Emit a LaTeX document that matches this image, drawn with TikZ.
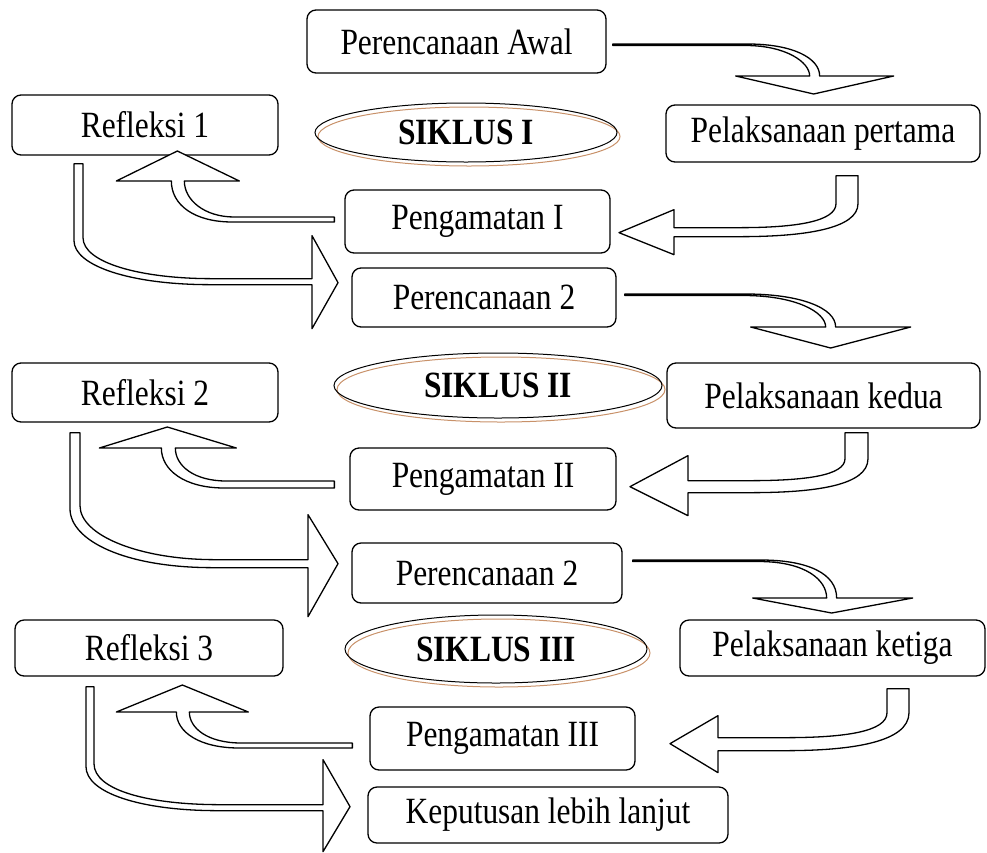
\documentclass[tikz,border=0pt]{standalone}
\usepackage{fontspec}
\setmainfont{Liberation Serif}[FakeStretch=0.85]
\usetikzlibrary{positioning, calc, shapes}

\definecolor{ringbrown}{RGB}{200,145,105}

\begin{document}
\begin{tikzpicture}[x=1pt, y=-1pt]
  \tikzstyle{stepbox}=[draw, rounded corners=9pt, line width=1.3pt, inner sep=0pt, font=\fontsize{37}{42}\selectfont]
  \tikzstyle{siklus}=[draw, ellipse, line width=1pt, inner sep=0pt, font=\fontsize{37}{42}\selectfont\bfseries,
    preaction={draw=ringbrown, line width=1pt, transform canvas={shift={(3pt,-4pt)}}}]
  \tikzstyle{barrow}=[draw, fill=white, line width=1.3pt, line join=round]

  \useasboundingbox (0,0) rectangle (987,852);

  % siklus I
  \node (awal) at (456.5,41.5) [stepbox, minimum width=299pt, minimum height=63pt] {Perencanaan Awal};
  \node (ref1) at (145,125) [stepbox, minimum width=266pt, minimum height=60pt] {Refleksi 1};
  \node (sik1) at (466,132.5) [siklus, minimum width=302pt, minimum height=59pt] {SIKLUS I};
  \node (pel1) at (823,133.5) [stepbox, minimum width=314pt, minimum height=57pt] {Pelaksanaan pertama};
  \node (pg1) at (477.5,221.5) [stepbox, minimum width=265pt, minimum height=63pt] {Pengamatan I};

  % siklus II
  \node (per2) at (484,297.5) [stepbox, minimum width=264pt, minimum height=59pt] {Perencanaan 2};
  \node (ref2) at (145,392.5) [stepbox, minimum width=266pt, minimum height=59pt] {Refleksi 2};
  \node (sik2) at (498,385.5) [siklus, minimum width=328pt, minimum height=65pt] {SIKLUS II};
  \node (pel2) at (823.5,395.5) [stepbox, minimum width=313pt, minimum height=65pt] {Pelaksanaan kedua};
  \node (pg2) at (483,479) [stepbox, minimum width=266pt, minimum height=62pt] {Pengamatan II};

  % siklus III
  \node (per3) at (487,573) [stepbox, minimum width=270pt, minimum height=60pt] {Perencanaan 2};
  \node (ref3) at (149,648) [stepbox, minimum width=268pt, minimum height=56pt] {Refleksi 3};
  \node (sik3) at (496,649) [siklus, minimum width=302pt, minimum height=68pt] {SIKLUS III};
  \node (pel3) at (832.5,648) [stepbox, minimum width=305pt, minimum height=56pt] {Pelaksanaan ketiga};
  \node (pg3) at (502.5,738.5) [stepbox, minimum width=265pt, minimum height=63pt] {Pengamatan III};
  \node (kep) at (548,815) [stepbox, minimum width=360pt, minimum height=56pt] {Keputusan lebih lanjut};

  % perencanaan -> pelaksanaan
  \begin{scope}[shift={(awal.east)}]
    \draw[barrow] (6,2.5) -- (141,2.5) .. controls (186,2.5) and (213,16.5) .. (213,34.5) -- (287,34.5) -- (207,52.5)
      -- (129,34.5) -- (203,34.5) .. controls (203,20.5) and (179,4) .. (139,4) -- (6,4) -- cycle;
  \end{scope}
  \begin{scope}[shift={(per2.east)}]
    \draw[barrow] (8,-3.5) -- (129,-3.5) .. controls (184,-3.5) and (219,10.5) .. (219,29.5) -- (294,29.5) -- (214,50.5)
      -- (134,29.5) -- (209,29.5) .. controls (209,14.5) and (179,-2) .. (127,-2) -- (8,-2) -- cycle;
  \end{scope}
  \begin{scope}[shift={(per3.east)}]
    \draw[barrow] (10,-13) -- (138,-13) .. controls (186,-13) and (214,1) .. (214,25) -- (290,25) -- (209,40)
      -- (130,25) -- (204,25) .. controls (204,7) and (183,-11.5) .. (136,-11.5) -- (10,-11.5) -- cycle;
  \end{scope}

  % pelaksanaan -> pengamatan
  \begin{scope}[shift={(pel1.south)}]
    \draw[barrow] (13,13) -- (35,13) -- (35,41) .. controls (35,66) and (-18,74) .. (-83,74) -- (-149,74) -- (-149,92)
      -- (-204,70) -- (-149,47) -- (-149,65) -- (-83,65) .. controls (-28,65) and (13,59) .. (13,41) -- cycle;
  \end{scope}
  \begin{scope}[shift={(pel2.south)}]
    \draw[barrow] (21.5,4) -- (44.5,4) -- (44.5,30) .. controls (44.5,57) and (-8.5,64) .. (-73.5,64) -- (-135.5,64) -- (-135.5,87)
      -- (-193.5,58) -- (-135.5,27) -- (-135.5,52) -- (-73.5,52) .. controls (-18.5,52) and (21.5,47) .. (21.5,30) -- cycle;
  \end{scope}
  \begin{scope}[shift={(pel3.south)}]
    \draw[barrow] (54.5,12) -- (76.5,12) -- (76.5,36) .. controls (76.5,66) and (17.5,74) .. (-47.5,74) -- (-114.5,74) -- (-114.5,96)
      -- (-162.5,67) -- (-114.5,39) -- (-114.5,61) -- (-47.5,61) .. controls (12.5,61) and (54.5,55) .. (54.5,36) -- cycle;
  \end{scope}

  % pengamatan -> refleksi
  \begin{scope}[shift={(pg1.west)}]
    \draw[barrow] (-10,-4.5) -- (-10,0.5) -- (-112,0.5) .. controls (-150,0.5) and (-173,-16.5) .. (-173,-40.5) -- (-228,-40.5)
      -- (-167,-70.5) -- (-105,-40.5) -- (-160,-40.5) .. controls (-160,-21.5) and (-140,-4.5) .. (-110,-4.5) -- cycle;
  \end{scope}
  \begin{scope}[shift={(pg2.west)}]
    \draw[barrow] (-15,2) -- (-15,9) -- (-125,9) .. controls (-165,9) and (-188,-9) .. (-188,-31) -- (-250,-31)
      -- (-182,-52) -- (-113,-31) -- (-174,-31) .. controls (-174,-13) and (-155,2) .. (-123,2) -- cycle;
  \end{scope}
  \begin{scope}[shift={(pg3.west)}]
    \draw[barrow] (-17,4.5) -- (-17,9.5) -- (-130,9.5) .. controls (-170,9.5) and (-193,-6.5) .. (-193,-26.5) -- (-253,-26.5)
      -- (-187,-53.5) -- (-121,-26.5) -- (-180,-26.5) .. controls (-180,-10.5) and (-162,4.5) .. (-128,4.5) -- cycle;
  \end{scope}

  % refleksi -> perencanaan berikutnya
  \begin{scope}[shift={(ref1.south)}]
    \draw[barrow] (-71,8) -- (-62,8) -- (-62,82) .. controls (-62,107) and (-5,123) .. (67,123) -- (167,123) -- (167,80)
      -- (193,127) -- (167,173) -- (167,129) -- (65,129) .. controls (-15,129) and (-71,110) .. (-71,85) -- cycle;
  \end{scope}
  \begin{scope}[shift={(ref2.south)}]
    \draw[barrow] (-75,10) -- (-65,10) -- (-65,83) .. controls (-65,113) and (-5,137) .. (70,137) -- (163,137) -- (163,92)
      -- (193,141) -- (163,194) -- (163,145) -- (68,145) .. controls (-20,145) and (-75,118) .. (-75,86) -- cycle;
  \end{scope}
  \begin{scope}[shift={(ref3.south)}]
    \draw[barrow] (-63,10) -- (-55,10) -- (-55,87) .. controls (-55,114) and (1,128) .. (71,128) -- (174,128) -- (174,83)
      -- (201,130) -- (174,175) -- (174,134) -- (69,134) .. controls (-9,134) and (-63,116) .. (-63,90) -- cycle;
  \end{scope}
\end{tikzpicture}
\end{document}
